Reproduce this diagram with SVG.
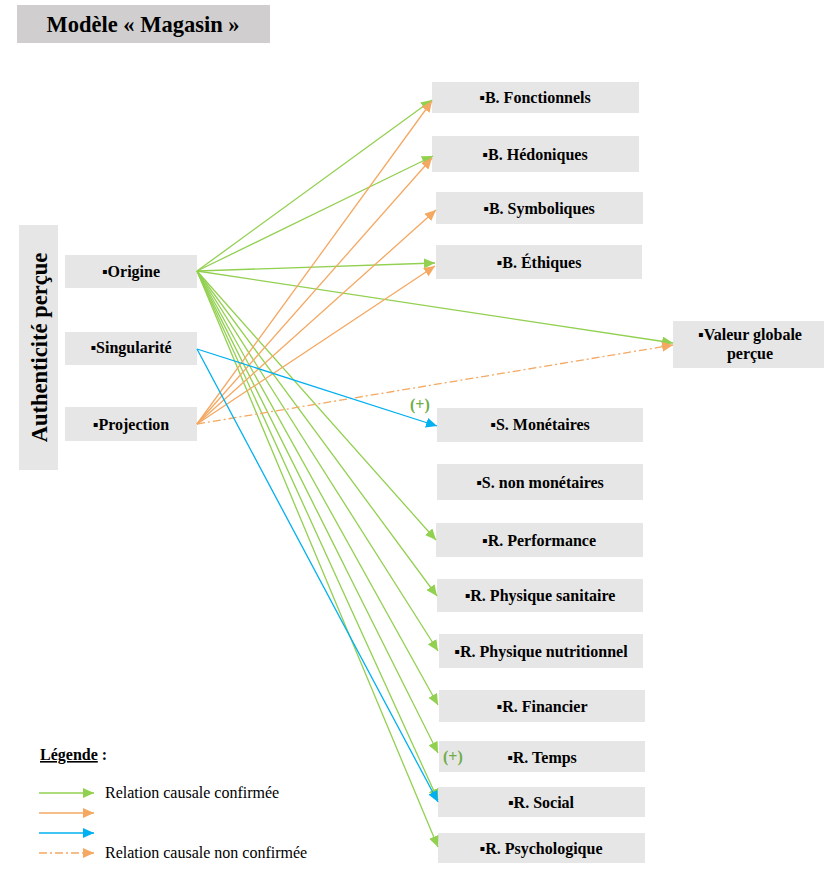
<svg xmlns="http://www.w3.org/2000/svg" width="824" height="869" viewBox="0 0 824 869">
<defs>
<marker id="ag" markerUnits="userSpaceOnUse" markerWidth="12" markerHeight="10" refX="11" refY="5" orient="auto"><path d="M0,0 L11,5 L0,10 z" fill="#92d050"/></marker>
<marker id="ao" markerUnits="userSpaceOnUse" markerWidth="12" markerHeight="10" refX="11" refY="5" orient="auto"><path d="M0,0 L11,5 L0,10 z" fill="#f4a862"/></marker>
<marker id="ab" markerUnits="userSpaceOnUse" markerWidth="12" markerHeight="10" refX="11" refY="5" orient="auto"><path d="M0,0 L11,5 L0,10 z" fill="#00b0f0"/></marker>
</defs>
<rect width="824" height="869" fill="#fff"/>
<g font-family="'Liberation Serif', serif" font-size="16" font-weight="bold" text-anchor="middle">
<g id="title"><rect x="17" y="5" width="253" height="38" fill="#d0cece"/><text x="143" y="32" font-size="22.5">Modèle « Magasin »</text></g>
<g id="authenticite"><rect x="19" y="225" width="39" height="245" fill="#e7e6e6"/><text transform="translate(47,347.5) rotate(-90)" font-size="22.5">Authenticité perçue</text></g>
<g id="origine"><rect x="65" y="255" width="132" height="33" fill="#e7e6e6"/><text x="131" y="277">▪Origine</text></g>
<g id="singularite"><rect x="65" y="332" width="132" height="33" fill="#e7e6e6"/><text x="131" y="353">▪Singularité</text></g>
<g id="projection"><rect x="65" y="407" width="132" height="34" fill="#e7e6e6"/><text x="131" y="430">▪Projection</text></g>
<g id="b-fonctionnels"><rect x="432" y="82" width="207" height="31" fill="#e7e6e6"/><text x="535" y="103">▪B. Fonctionnels</text></g>
<g id="b-hedoniques"><rect x="432" y="136" width="207" height="36" fill="#e7e6e6"/><text x="535" y="160">▪B. Hédoniques</text></g>
<g id="b-symboliques"><rect x="436" y="192" width="207" height="32" fill="#e7e6e6"/><text x="539" y="214">▪B. Symboliques</text></g>
<g id="b-ethiques"><rect x="436" y="245" width="206" height="34" fill="#e7e6e6"/><text x="539" y="268">▪B. Éthiques</text></g>
<g id="valeur"><rect x="673" y="321" width="151" height="47" fill="#e7e6e6"/><text x="750" y="340">▪Valeur globale</text><text x="750" y="359">perçue</text></g>
<g id="s-monetaires"><rect x="437" y="408" width="206" height="34" fill="#e7e6e6"/><text x="540" y="430">▪S. Monétaires</text></g>
<g id="s-non-monetaires"><rect x="437" y="464" width="206" height="36" fill="#e7e6e6"/><text x="540" y="488">▪S. non monétaires</text></g>
<g id="r-performance"><rect x="436" y="523" width="207" height="34" fill="#e7e6e6"/><text x="539" y="546">▪R. Performance</text></g>
<g id="r-sanitaire"><rect x="437" y="579" width="206" height="33" fill="#e7e6e6"/><text x="540" y="601">▪R. Physique sanitaire</text></g>
<g id="r-nutritionnel"><rect x="439" y="634" width="204" height="34" fill="#e7e6e6"/><text x="541" y="657">▪R. Physique nutritionnel</text></g>
<g id="r-financier"><rect x="439" y="690" width="206" height="32" fill="#e7e6e6"/><text x="542" y="712">▪R. Financier</text></g>
<g id="r-temps"><rect x="439" y="741" width="206" height="31" fill="#e7e6e6"/><text x="542" y="763">▪R. Temps</text></g>
<g id="r-social"><rect x="438" y="787" width="207" height="30" fill="#e7e6e6"/><text x="541" y="808">▪R. Social</text></g>
<g id="r-psychologique"><rect x="438" y="833" width="207" height="30" fill="#e7e6e6"/><text x="541" y="854">▪R. Psychologique</text></g>
</g>
<g id="connectors" fill="none" stroke-width="1.3">
<g stroke="#92d050" marker-end="url(#ag)">
<line x1="197" y1="271" x2="432" y2="100"/>
<line x1="197" y1="271" x2="433" y2="156"/>
<line x1="197" y1="271" x2="435" y2="263"/>
<line x1="197" y1="271" x2="673" y2="343"/>
<line x1="197" y1="271" x2="436" y2="540"/>
<line x1="197" y1="271" x2="437" y2="596"/>
<line x1="197" y1="271" x2="438" y2="651"/>
<line x1="197" y1="271" x2="438" y2="705"/>
<line x1="197" y1="271" x2="438" y2="753"/>
<line x1="197" y1="271" x2="438" y2="800"/>
<line x1="197" y1="271" x2="438" y2="847"/>
</g>
<g stroke="#f4a862" marker-end="url(#ao)">
<line x1="197" y1="424" x2="432" y2="101"/>
<line x1="197" y1="424" x2="432" y2="158"/>
<line x1="197" y1="424" x2="436" y2="210"/>
<line x1="197" y1="424" x2="435" y2="266"/>
<line x1="197" y1="424" x2="673" y2="345" stroke-dasharray="8 3 2 3"/>
</g>
<g stroke="#00b0f0" marker-end="url(#ab)">
<line x1="197" y1="349" x2="437" y2="426"/>
<line x1="197" y1="349" x2="438" y2="802"/>
</g>
</g>
<g font-family="'Liberation Serif', serif" font-size="16">
<text x="410" y="410" font-weight="bold" fill="#70ad47">(+)</text>
<text x="443" y="762" font-weight="bold" fill="#70ad47">(+)</text>
<g id="legend">
<text x="40" y="760" font-weight="bold"><tspan text-decoration="underline">Légende</tspan> :</text>
<text x="105" y="798">Relation causale confirmée</text>
<text x="105" y="858">Relation causale non confirmée</text>
<g fill="none" stroke-width="1.3">
<line x1="39" y1="793" x2="94" y2="793" stroke="#92d050" marker-end="url(#ag)"/>
<line x1="39" y1="813" x2="94" y2="813" stroke="#f4a862" marker-end="url(#ao)"/>
<line x1="39" y1="833" x2="94" y2="833" stroke="#00b0f0" marker-end="url(#ab)"/>
<line x1="39" y1="853" x2="94" y2="853" stroke="#f4a862" stroke-dasharray="8 3 2 3" marker-end="url(#ao)"/>
</g>
</g>
</g>
</svg>
